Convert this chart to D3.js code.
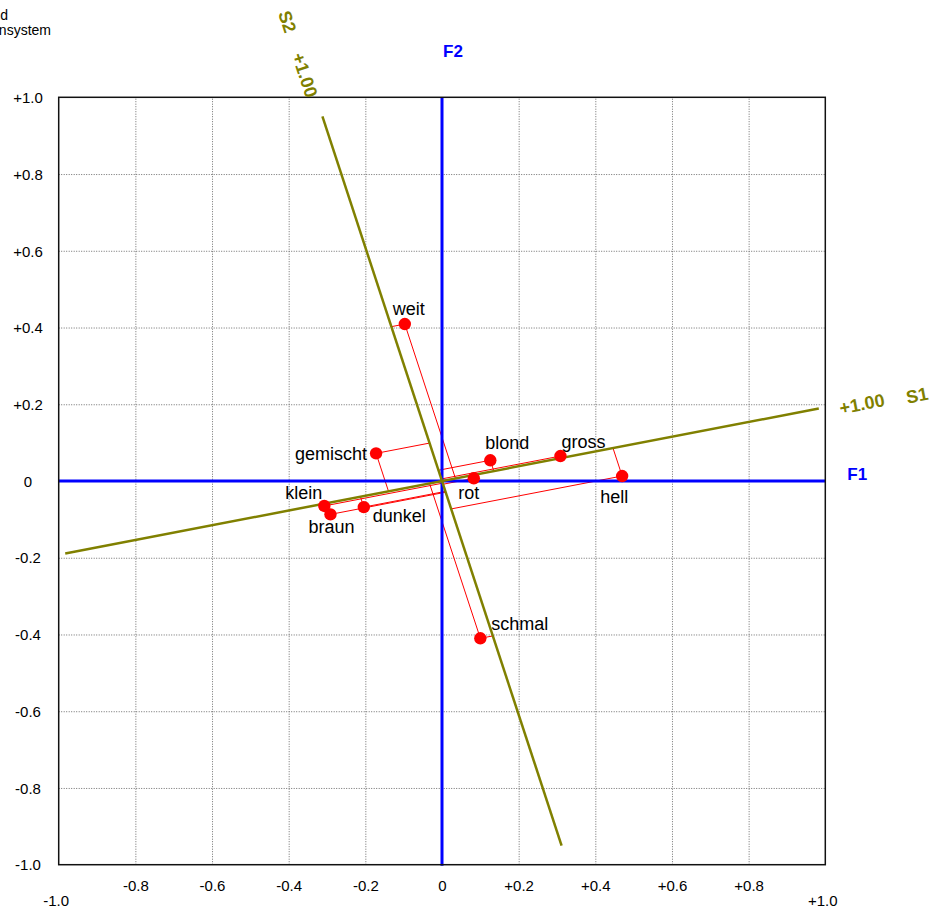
<!DOCTYPE html>
<html>
<head>
<meta charset="utf-8">
<script src="https://cdn.jsdelivr.net/npm/d3@7"></script>
<style>
  body { margin: 0; background: #fff; }
  svg { display: block; font-family: "Liberation Sans", Arial, Helvetica, sans-serif; }
</style>
</head>
<body>
<svg id="svg_factorPlot" width="932" height="908"></svg>
<script>
// Variables in the F1/F2 factor plane, with the oblique axes S1 and S2

const varNames = ['weit', 'gemischt', 'blond', 'gross', 'rot', 'hell', 'klein', 'braun', 'dunkel', 'schmal'];
const f1Values = [-0.097, -0.172, 0.126, 0.309, 0.083, 0.470, -0.307, -0.291, -0.204, 0.100];
const f2Values = [0.409, 0.072, 0.054, 0.065, 0.007, 0.013, -0.065, -0.087, -0.068, -0.410];

// +1.00 end of each oblique axis, in F1/F2 units
const s1End = [0.983, 0.189];
const s2End = [-0.312, 0.950];

const tickValues = [-1.0, -0.8, -0.6, -0.4, -0.2, 0, 0.2, 0.4, 0.6, 0.8, 1.0];
const tickLabels = ['-1.0', '-0.8', '-0.6', '-0.4', '-0.2', '0', '+0.2', '+0.4', '+0.6', '+0.8', '+1.0'];
const titleLines = ['Faktoren und', 'Koordinatensystem'];

// label placement next to each point (pixels)
const labelPos = {
    weit:     { dx: 4,  dy: -9, anchor: 'middle' },
    gemischt: { dx: -9, dy: 7,  anchor: 'end' },
    blond:    { dx: -5, dy: -11, anchor: 'start' },
    gross:    { dx: 1,  dy: -8, anchor: 'start' },
    rot:      { dx: -5, dy: 21, anchor: 'middle' },
    hell:     { dx: -8, dy: 27, anchor: 'middle' },
    klein:    { dx: -2, dy: -7, anchor: 'end' },
    braun:    { dx: 1,  dy: 19, anchor: 'middle' },
    dunkel:   { dx: 9,  dy: 15, anchor: 'start' },
    schmal:   { dx: 11, dy: -8, anchor: 'start' }
};

const olive = '#808000';
const blue = '#0000ff';
const red = '#ff0000';

let svg = d3.select('#svg_factorPlot');

// Scales
let xScale = d3.scaleLinear().domain([-1, 1]).range([58.7, 825.3]);
let yScale = d3.scaleLinear().domain([-1, 1]).range([864.7, 97.3]);

const plotTop = yScale(1), plotBottom = yScale(-1), plotLeft = xScale(-1), plotRight = xScale(1);
const fmt = d => tickLabels[tickValues.indexOf(d)];
const inner = tickValues.filter(d => Math.abs(d) < 1);
const grid = inner.filter(d => d !== 0);

// Grid
let gx = svg.append('g')
    .attr('transform', `translate(0, ${plotBottom})`)
    .call(d3.axisBottom(xScale).tickValues(grid).tickSize(-(plotBottom - plotTop)).tickFormat(''));
let gy = svg.append('g')
    .attr('transform', `translate(${plotLeft}, 0)`)
    .call(d3.axisLeft(yScale).tickValues(grid).tickSize(-(plotRight - plotLeft)).tickFormat(''));
[gx, gy].forEach(g => {
    g.select('.domain').remove();
    g.selectAll('line').attr('stroke', '#6e6e6e').attr('stroke-width', 1).attr('stroke-dasharray', '1,1.5');
});

// Tick labels
let xLab = svg.append('g')
    .attr('transform', `translate(0, ${plotBottom})`)
    .call(d3.axisBottom(xScale).tickValues(inner).tickSize(0).tickFormat(fmt));
let xLabEnds = svg.append('g')
    .attr('transform', `translate(0, ${plotBottom})`)
    .call(d3.axisBottom(xScale).tickValues([-1, 1]).tickSize(0).tickFormat(fmt));
xLab.selectAll('text').attr('y', 26).attr('dy', null);
xLabEnds.selectAll('text').attr('y', 41).attr('dy', null).attr('dx', -3);
let yLab = svg.append('g')
    .attr('transform', `translate(${plotLeft}, 0)`)
    .call(d3.axisLeft(yScale).tickValues(tickValues).tickSize(0).tickFormat(fmt));
yLab.selectAll('text').attr('x', 28 - plotLeft).attr('dy', '0.35em').attr('text-anchor', 'middle');
[xLab, xLabEnds, yLab].forEach(g => {
    g.select('.domain').remove();
    g.selectAll('text').attr('fill', '#000').attr('font-size', 15)
        .attr('font-family', '"Liberation Sans", Arial, sans-serif');
});

// Oblique decomposition P = a*s1End + b*s2End
const det = s1End[0] * s2End[1] - s2End[0] * s1End[1];
let points = varNames.map((name, i) => {
    let px = f1Values[i], py = f2Values[i];
    let a = (px * s2End[1] - py * s2End[0]) / det;
    let b = (s1End[0] * py - s1End[1] * px) / det;
    return { name, px, py, a, b };
});

// Projection lines
let proj = svg.append('g');
points.forEach(p => {
    proj.append('line')
        .attr('x1', xScale(p.px)).attr('y1', yScale(p.py))
        .attr('x2', xScale(p.a * s1End[0])).attr('y2', yScale(p.a * s1End[1]));
    proj.append('line')
        .attr('x1', xScale(p.px)).attr('y1', yScale(p.py))
        .attr('x2', xScale(p.b * s2End[0])).attr('y2', yScale(p.b * s2End[1]));
});
proj.selectAll('line').attr('stroke', red).attr('stroke-width', 1);

// F1 / F2 axes
svg.append('line')
    .attr('x1', plotLeft).attr('x2', plotRight).attr('y1', yScale(0)).attr('y2', yScale(0))
    .attr('stroke', blue).attr('stroke-width', 3);
svg.append('line')
    .attr('x1', xScale(0)).attr('x2', xScale(0)).attr('y1', plotTop).attr('y2', plotBottom + 1)
    .attr('stroke', blue).attr('stroke-width', 3);

// Frame
svg.append('rect')
    .attr('x', plotLeft).attr('y', plotTop).attr('width', plotRight - plotLeft).attr('height', plotBottom - plotTop)
    .attr('fill', 'none').attr('stroke', '#111').attr('stroke-width', 1.5);

// S1 / S2 axes
[s1End, s2End].forEach(e => {
    svg.append('line')
        .attr('x1', xScale(-e[0])).attr('y1', yScale(-e[1]))
        .attr('x2', xScale(e[0])).attr('y2', yScale(e[1]))
        .attr('stroke', olive).attr('stroke-width', 2.5);
});

// Axis labels
svg.append('text').attr('x', plotRight + 22).attr('y', yScale(0) - 1)
    .attr('fill', blue).attr('font-weight', 'bold').attr('font-size', 17).text('F1');
svg.append('text').attr('x', xScale(0) + 1).attr('y', plotTop - 40)
    .attr('fill', blue).attr('font-weight', 'bold').attr('font-size', 17).text('F2');

function obliqueLabel(e, textDir, items) {
    // e: axis end, textDir: +1 if text reads outward, -1 if inward
    let ex = xScale(e[0]), ey = yScale(e[1]);
    let ox = ex - xScale(0), oy = ey - yScale(0);
    let len = Math.hypot(ox, oy);
    let ux = ox / len, uy = oy / len;                 // outward direction
    let tx = ux * textDir, ty = uy * textDir;         // reading direction
    let ang = Math.atan2(ty, tx);
    let nx = -Math.sin(ang), ny = Math.cos(ang);      // text "down" direction
    items.forEach(it => {
        let sx = ex + ux * it.along + nx * it.normal;
        let sy = ey + uy * it.along + ny * it.normal;
        svg.append('text')
            .attr('transform', `translate(${sx}, ${sy}) rotate(${ang * 180 / Math.PI})`)
            .attr('fill', olive).attr('font-weight', 'bold').attr('font-size', 18)
            .text(it.text);
    });
}
obliqueLabel(s1End, 1, [{ text: '+1.00', along: 20.5, normal: 10 }, { text: 'S1', along: 88, normal: 12 }]);
obliqueLabel(s2End, -1, [{ text: '+1.00', along: 67.6, normal: 10 }, { text: 'S2', along: 112, normal: 10 }]);

// Points
svg.append('g').selectAll('circle')
    .data(points)
    .join('circle')
    .attr('cx', d => xScale(d.px))
    .attr('cy', d => yScale(d.py))
    .attr('r', 6.2)
    .attr('fill', red);

svg.append('g').selectAll('text')
    .data(points)
    .join('text')
    .attr('x', d => xScale(d.px) + labelPos[d.name].dx)
    .attr('y', d => yScale(d.py) + labelPos[d.name].dy)
    .attr('text-anchor', d => labelPos[d.name].anchor)
    .attr('font-size', 18)
    .attr('fill', '#000')
    .text(d => d.name);

// Title (cut off at the left edge in the source)
const titleEnds = [8, 51];
svg.append('g').selectAll('text')
    .data(titleLines)
    .join('text')
    .attr('x', (d, i) => titleEnds[i])
    .attr('y', (d, i) => 20 + i * 15)
    .attr('text-anchor', 'end')
    .attr('font-size', 14)
    .attr('fill', '#000')
    .text(d => d);
</script>
</body>
</html>
